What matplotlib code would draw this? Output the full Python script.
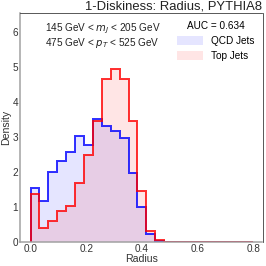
import numpy as np
import matplotlib
matplotlib.use("Agg")
import matplotlib.pyplot as plt
from matplotlib.patches import Patch

# 25 bins over [0, 0.8]
bin_edges = np.linspace(0.0, 0.8, 26)
qcd_density = [1.52, 1.15, 1.98, 2.30, 2.56, 3.01, 2.77, 3.50, 3.30, 3.17,
               2.95, 1.95, 0.99, 0.22, 0.01, 0, 0, 0, 0, 0, 0, 0, 0, 0, 0]
top_density = [1.36, 0.39, 0.58, 0.87, 1.02, 1.68, 2.46, 3.46, 4.65, 4.94,
               4.65, 3.45, 1.45, 0.30, 0.05, 0, 0, 0, 0, 0, 0, 0, 0, 0, 0]
labels = ["QCD Jets", "Top Jets"]
auc = 0.634

plt.rcParams["font.family"] = ["Liberation Sans", "DejaVu Sans"]
fig = plt.figure(figsize=(266 / 72, 266 / 72), dpi=72)
ax = fig.add_axes([20 / 266, 1 - 241.5 / 266, 242.5 / 266, 229 / 266])

for vals, c in ((qcd_density, "blue"), (top_density, "red")):
    ax.stairs(vals, bin_edges, fill=True, color=c, alpha=0.1, lw=0)
for vals, c in ((qcd_density, "blue"), (top_density, "red")):
    ax.stairs(vals, bin_edges, baseline=0, color=c, alpha=0.8, lw=2)

ax.set_xlim(-0.038, 0.833)
ax.set_ylim(0, 6.55)
ax.set_xticks([0.0, 0.2, 0.4, 0.6, 0.8])
ax.set_yticks(range(7))
ax.tick_params(length=0, labelsize=10, colors="#333333", pad=2)
for s in ("left", "bottom"):
    ax.spines[s].set_color("#a0a0a0")
    ax.spines[s].set_linewidth(1.5)
for s in ("top", "right"):
    ax.spines[s].set_color("#333333")
    ax.spines[s].set_linewidth(0.8)

ax.set_xlabel("Radius", fontsize=10.5, color="#333333", labelpad=0)
ax.set_ylabel("Density", fontsize=10.5, color="#333333", labelpad=1)
ax.set_title("1-Diskiness: Radius, PYTHIA8", loc="right", fontsize=13,
             color="#222222", pad=2)

ax.text(0.34, 0.96, "145 GeV < $m_J$ < 205 GeV\n475 GeV < $p_T$ < 525 GeV",
        transform=ax.transAxes, ha="center", va="top", fontsize=10,
        color="#222222", linespacing=0.95)

handles = [Patch(facecolor="blue", alpha=0.1, edgecolor="none"),
           Patch(facecolor="red", alpha=0.1, edgecolor="none")]
leg = ax.legend(handles, labels, title=f"AUC = {auc}", loc="upper right",
                frameon=False, fontsize=10, title_fontsize=10,
                handlelength=2.6, handleheight=1.1, borderaxespad=0.4)

fig.savefig("out.png", dpi=72)
